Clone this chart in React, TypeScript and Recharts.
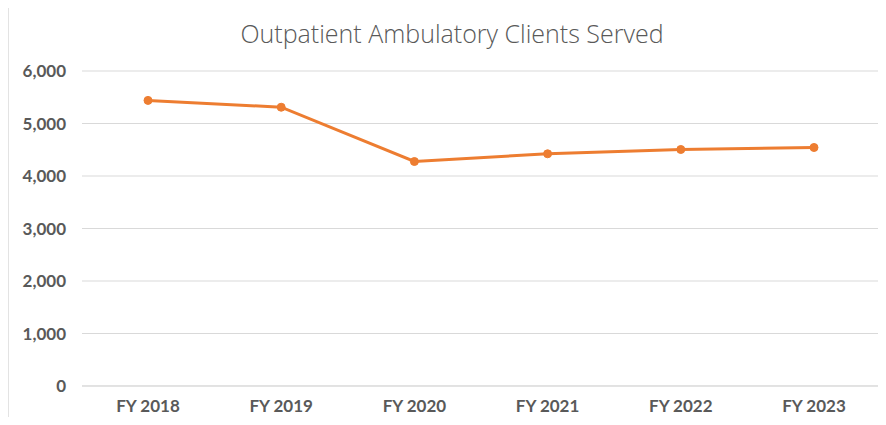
import React from 'react'
import { LineChart, Line, XAxis, YAxis, CartesianGrid } from 'recharts'

const years = ['FY 2018', 'FY 2019', 'FY 2020', 'FY 2021', 'FY 2022', 'FY 2023']
const clients = [5440, 5310, 4276, 4423, 4505, 4543]
const yTicks = [0, 1000, 2000, 3000, 4000, 5000, 6000]

const data = years.map((name, i) => ({ name, clients: clients[i] }))

const tickStyle = { fill: '#595959', fontSize: 17, fontWeight: 700, fontFamily: 'Lato, sans-serif' }

const App = () => {
  return (
    <div style={{ position: 'relative', width: 886, height: 425, margin: -8, background: '#fff', overflow: 'hidden' }}>
      <div
        style={{
          position: 'absolute', left: 0, top: 17, width: 904, textAlign: 'center',
          fontFamily: '"Open Sans", sans-serif', fontWeight: 300, fontSize: 25, lineHeight: '32px', color: '#595959',
        }}
      >
        Outpatient Ambulatory Clients Served
      </div>
      <div style={{ position: 'absolute', left: 0, top: 0 }}>
        <LineChart width={886} height={425} data={data} margin={{ top: 71, right: 6, left: 0, bottom: 0 }}>
          <CartesianGrid vertical={false} stroke="#d9d9d9" />
          <XAxis
            dataKey="name"
            height={39}
            padding={{ left: 66, right: 66 }}
            tickLine={false}
            tickSize={0}
            tickMargin={14}
            axisLine={{ stroke: '#d9d9d9' }}
            tick={tickStyle}
          />
          <YAxis
            width={82}
            domain={[0, 6000]}
            ticks={yTicks}
            tickLine={false}
            tickSize={0}
            tickMargin={16}
            axisLine={false}
            tickFormatter={(v: number) => v.toLocaleString('en-US')}
            tick={tickStyle}
          />
          <Line
            type="linear"
            dataKey="clients"
            stroke="#ED7D31"
            strokeWidth={3}
            dot={{ r: 4, fill: '#ED7D31', stroke: '#ED7D31', strokeWidth: 1 }}
            isAnimationActive={false}
          />
        </LineChart>
      </div>
      <div
        style={{
          position: 'absolute', left: 7, top: 4, width: 900, height: 440, pointerEvents: 'none',
          borderLeft: '2px solid #e3e3e3', borderTop: '2px solid #e3e3e3',
        }}
      />
    </div>
  )
}

export default App
